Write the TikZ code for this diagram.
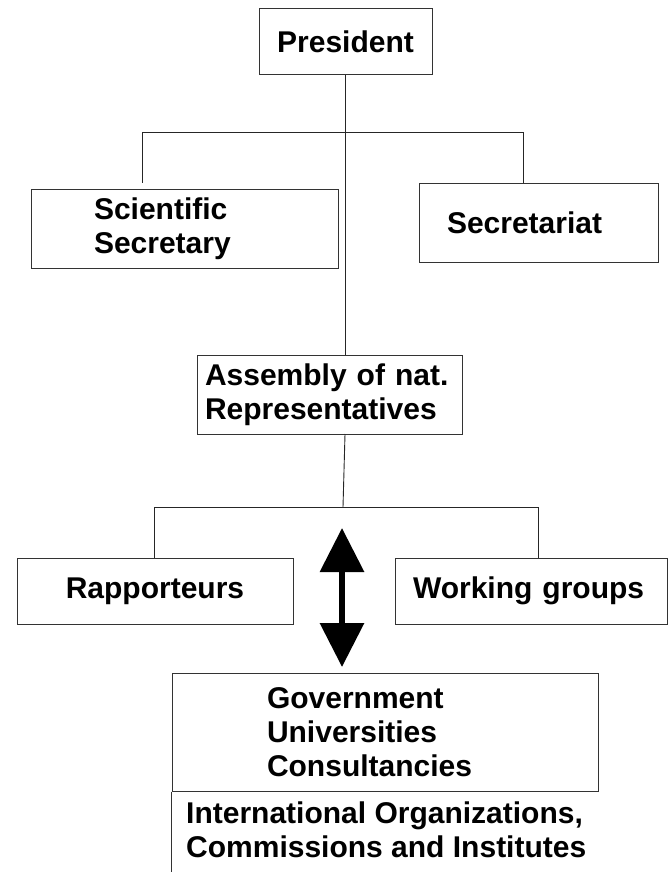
\documentclass[tikz,border=0pt]{standalone}
\usepackage{fontspec}
\setmainfont{Liberation Sans}
\usetikzlibrary{arrows.meta}
\newcommand\orgfont{\fontsize{30}{34}\selectfont\bfseries}
\tikzset{
  box/.style={draw=black!80, line width=1pt, font=\orgfont, inner ysep=0pt},
  link/.style={line width=0.9pt, black!85},
  dblarrow/.style={line width=6.4pt, {Triangle[length=44pt,width=43pt]}-{Triangle[length=44pt,width=43pt]}}
}
\begin{document}
\begin{tikzpicture}[x=1pt,y=-1pt]
\useasboundingbox (0,0) rectangle (667,872);

\node[box, minimum width=173pt, minimum height=66pt] (pres) at (345.5,42) {President};

\node[box, text width=181pt, inner xsep=63pt, minimum height=79pt, align=left] (sci) at (184.5,228.5) {Scientific\\Secretary};
\node[box, text width=183pt, inner xsep=28pt, minimum height=79pt, align=left] (sec) at (538.5,222.5) {Secretariat};

\node[box, text width=249pt, inner xsep=8pt, minimum height=79pt, align=left] (asm) at (329.5,394.5) {Assembly of nat.\\Representatives};

\node[box, minimum width=276pt, minimum height=66pt] (rap) at (155,591) {Rapporteurs};
\node[box, text width=236pt, inner xsep=18pt, minimum height=66pt, align=left] (wg) at (531,591) {Working groups};

\node[box, text width=236pt, inner xsep=95pt, minimum height=118pt, align=left] (inst) at (385,732) {Government\\Universities\\Consultancies};
\node[font=\orgfont, align=left, anchor=west, inner sep=0pt] (intl) at (186,829.5) {International Organizations,\\Commissions and Institutes};

% upper branch
\coordinate (ul) at (142,132);
\coordinate (ur) at (523,132);
\draw[link] (pres.south) -- (pres.south |- asm.north);
\draw[link] (ul) -- (ur);
\draw[link] (ul) -- (142,183);
\draw[link] (ur) -- (ur |- sec.north);

% lower branch
\coordinate (ll) at (154,507);
\coordinate (lr) at (538,507);
\draw[link] (345,434) -- (343,507);
\draw[link] (ll) -- (lr);
\draw[link] (ll) -- (ll |- rap.north);
\draw[link] (lr) -- (lr |- wg.north);

\draw[box] (inst.south west) -- (inst.south west |- 0,872);

\coordinate (arrtop) at (342,528);
\coordinate (arrbot) at (342,667);
\draw[dblarrow] (arrtop) -- (arrbot);
\end{tikzpicture}
\end{document}
